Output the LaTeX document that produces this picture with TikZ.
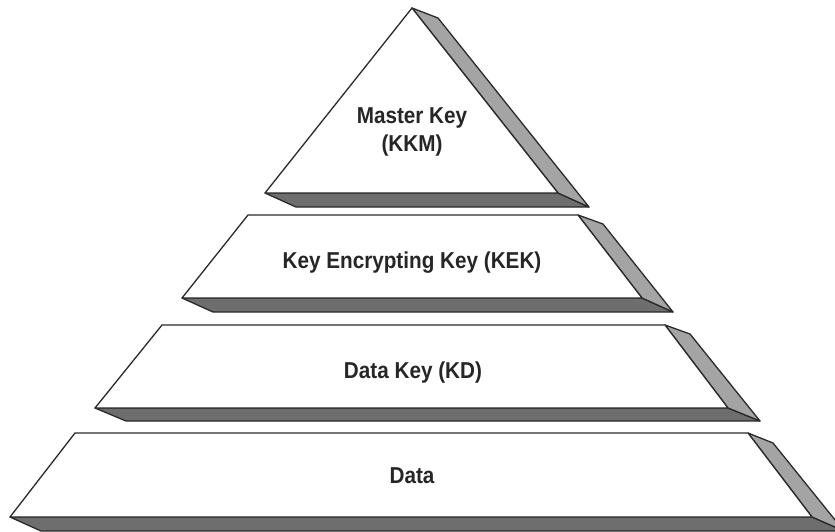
\documentclass[tikz,border=0pt]{standalone}
\usepackage{fontspec}
\newfontfamily\labfont{Liberation Sans}[FakeStretch=0.9]
\definecolor{sidegray}{HTML}{A4A4A4}
\definecolor{botgray}{HTML}{6E6E6E}
\definecolor{edge}{HTML}{2A2A2A}
\tikzset{
  front/.style={draw=edge, fill=white, line width=1.3pt, line join=round},
  sideface/.style={draw=edge, fill=sidegray, line width=1.3pt, line join=round},
  botface/.style={draw=edge, fill=botgray, line width=1.3pt, line join=round},
  lab/.style={font=\labfont\bfseries\fontsize{23}{28}\selectfont, text=black!85, inner sep=0pt, anchor=base, align=center}
}
\begin{document}
\begin{tikzpicture}[x=1pt,y=-1pt]
\useasboundingbox (0,0) rectangle (835,531);
% ---- Tier 1 : triangle
\fill[botface] (265,193) -- (558,193) -- (589,207) -- (296,207) -- cycle;
\fill[sideface] (412,8) -- (438,18) -- (589,207) -- (558,193) -- cycle;
\draw[front] (412,8) -- (265,193) -- (558,193) -- cycle;
% ---- Tier 2
\fill[botface] (182,298) -- (642,298) -- (673,312) -- (213,312) -- cycle;
\fill[sideface] (578,215) -- (603,224) -- (673,312) -- (642,298) -- cycle;
\draw[front] (248,215) -- (578,215) -- (642,298) -- (182,298) -- cycle;
% ---- Tier 3
\fill[botface] (95,408) -- (728,408) -- (760,421) -- (126,421) -- cycle;
\fill[sideface] (665,325) -- (690,334) -- (760,421) -- (728,408) -- cycle;
\draw[front] (162,325) -- (665,325) -- (728,408) -- (95,408) -- cycle;
% ---- Tier 4
\fill[botface] (10,517) -- (812,517) -- (844,531) -- (41,531) -- cycle;
\fill[sideface] (748,433) -- (773,443) -- (844,531) -- (812,517) -- cycle;
\draw[front] (75,433) -- (748,433) -- (812,517) -- (10,517) -- cycle;
% ---- Labels
\node[lab] (kkm) at (412,151) {Master Key\\(KKM)};
\node[lab] (kek) at (412,268) {Key Encrypting Key (KEK)};
\node[lab] (kd) at (413,378) {Data Key (KD)};
\node[lab] (data) at (412,483) {Data};
\end{tikzpicture}
\end{document}
